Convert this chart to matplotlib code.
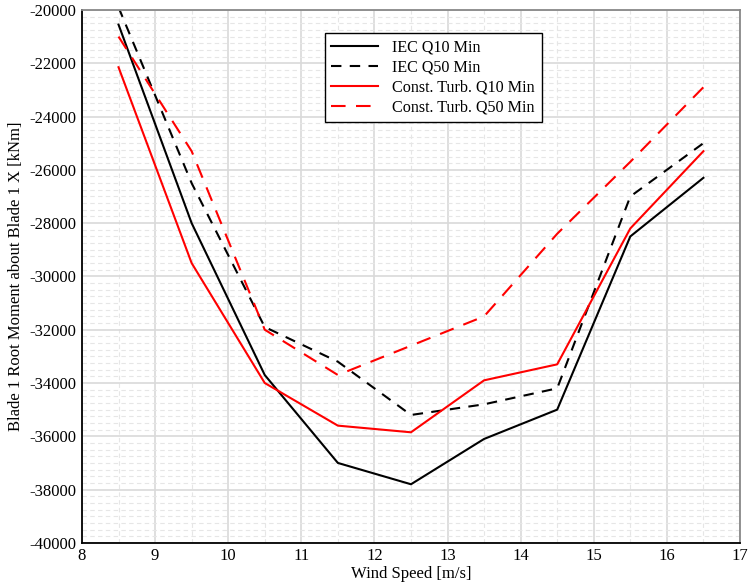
import matplotlib
matplotlib.use("Agg")
import matplotlib.pyplot as plt
from matplotlib.ticker import MultipleLocator

plt.rcParams['font.family'] = ['Liberation Serif', 'DejaVu Serif']
plt.rcParams['axes.unicode_minus'] = False

wind = [8.5, 9.5, 10.5, 11.5, 12.5, 13.5, 14.5, 15.5, 16.5]
iec_q10 = [-20550, -28000, -33700, -37000, -37800, -36100, -35000, -28500, -26300]
iec_q50 = [-19900, -26500, -31900, -33200, -35200, -34800, -34200, -27000, -25000]
ct_q10 = [-22150, -29500, -34000, -35600, -35850, -33900, -33300, -28200, -25300]
ct_q50 = [-21000, -25300, -32000, -33700, -32600, -31500, -28400, -25700, -22900]

fig = plt.figure(figsize=(7.52, 5.85), dpi=100)
ax = fig.add_axes([0.109, 0.072, 0.875, 0.911])

ax.plot(wind, iec_q10, color='black', lw=1.5, label='IEC Q10 Min')
ax.plot(wind, iec_q50, color='black', lw=1.5, ls=(0, (5, 4)), label='IEC Q50 Min')
ax.plot(wind, ct_q10, color='red', lw=1.5, label='Const. Turb. Q10 Min')
ax.plot(wind, ct_q50, color='red', lw=1.5, ls=(0, (7, 5)), label='Const. Turb. Q50 Min')

ax.set_xlim(8, 17)
ax.set_ylim(-40000, -20000)
ax.xaxis.set_major_locator(MultipleLocator(1))
ax.xaxis.set_minor_locator(MultipleLocator(0.5))
ax.yaxis.set_major_locator(MultipleLocator(2000))
ax.yaxis.set_minor_locator(MultipleLocator(250))
ax.grid(which='major', color='#d9d9d9', lw=1.2, ls='-')
ax.grid(which='minor', color='#e6e6e6', lw=0.8, ls=(0, (4, 3)))
ax.set_axisbelow(True)
ax.tick_params(which='both', length=0, labelsize=12, pad=4)
for s in ax.spines.values():
    s.set_linewidth(1.3)
    s.set_color('black')
ax.spines['right'].set_color('#888888')
ax.spines['top'].set_color('#888888')

ax.set_xlabel('Wind Speed [m/s]', fontsize=12, labelpad=1)
ax.set_ylabel('Blade 1 Root Moment about Blade 1 X [kNm]', fontsize=12, labelpad=4)

leg = ax.legend(loc='upper left', bbox_to_anchor=(0.369, 0.957), fontsize=11.6,
                handlelength=2.9, frameon=True, fancybox=False, framealpha=1,
                edgecolor='black', borderpad=0.4, labelspacing=0.25, handletextpad=0.9,
                borderaxespad=0)
leg.get_frame().set_linewidth(1.0)

fig.savefig('out.png', dpi=100)
